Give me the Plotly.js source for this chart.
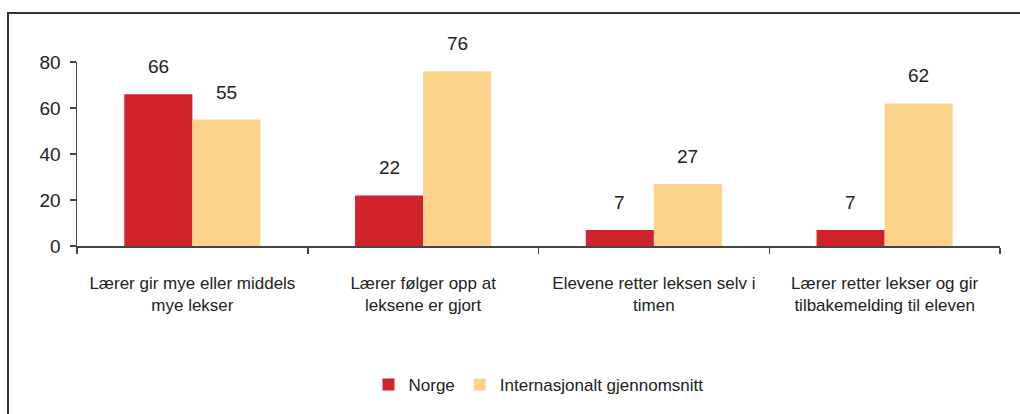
<!DOCTYPE html>
<html>
<head>
<meta charset="utf-8">
<script src="https://cdn.plot.ly/plotly-3.0.1.min.js"></script>
<style>
html,body{margin:0;padding:0;background:#fff;}
#wrap{position:relative;width:1020px;height:414px;overflow:hidden;}
#chart{position:absolute;left:0;top:0;width:1020px;height:414px;}
#frame{position:absolute;left:7px;top:12px;width:1100px;height:500px;border:2px solid #333;box-sizing:border-box;pointer-events:none;}
</style>
</head>
<body>
<div id="wrap"><div id="chart"></div><div id="frame"></div></div>
<script>
const categories = [
  "Lærer gir mye eller middels<br>mye lekser",
  "Lærer følger opp at<br>leksene er gjort",
  "Elevene retter leksen selv i<br>timen",
  "Lærer retter lekser og gir<br>tilbakemelding til eleven"
];
const seriesNames = ["Norge", "Internasjonalt gjennomsnitt"];
const norge = [66, 22, 7, 7];
const internasjonalt = [55, 76, 27, 62];
const colors = ["#d0222a", "#fdd38c"];
const yTicks = [0, 20, 40, 60, 80];

const FONT = "'Liberation Sans', Arial, sans-serif";
const bargap = 0.41;
const series = [norge, internasjonalt];

const traces = series.map((vals, i) => ({
  type: "bar",
  name: seriesNames[i],
  x: categories,
  y: vals,
  marker: {color: colors[i], line: {width: 0}},
  hoverinfo: "y"
}));

const half = (1 - bargap) / 4;
const annotations = [];
series.forEach((vals, s) => {
  vals.forEach((v, c) => {
    annotations.push({
      x: c + (s === 0 ? -half : half), xref: "x",
      y: v, yref: "y",
      text: String(v), showarrow: false,
      yanchor: "bottom", yshift: 15,
      font: {family: FONT, size: 19, color: "#222"}
    });
  });
});

const layout = {
  width: 1020, height: 414,
  margin: {l: 77, r: 20, t: 62, b: 167},
  paper_bgcolor: "#fff", plot_bgcolor: "#fff",
  barmode: "group", bargap: bargap, bargroupgap: 0,
  font: {family: FONT, size: 17, color: "#222"},
  xaxis: {
    type: "category",
    showline: true, linecolor: "#444", linewidth: 1.5,
    ticks: "outside", tickson: "boundaries", ticklen: 6, tickcolor: "#444", tickwidth: 1.5,
    ticklabelstandoff: 21, tickangle: 0,
    tickfont: {family: FONT, size: 17, color: "#222"},
    showgrid: false, zeroline: false
  },
  yaxis: {
    range: [0, 80],
    tickvals: yTicks, ticktext: yTicks.map(String),
    showline: true, linecolor: "#444", linewidth: 1.5,
    ticks: "outside", ticklen: 6, tickcolor: "#444", tickwidth: 1.5,
    ticklabelstandoff: 5,
    tickfont: {family: FONT, size: 19, color: "#222"},
    showgrid: false, zeroline: false
  },
  showlegend: true,
  legend: {
    orientation: "h", x: 0.5, xanchor: "center", y: -0.746, yanchor: "middle",
    font: {family: FONT, size: 17, color: "#222"},
    itemwidth: 30, tracegroupgap: 0
  },
  annotations: annotations
};

Plotly.newPlot("chart", traces, layout, {displayModeBar: false, staticPlot: true});
</script>
</body>
</html>
